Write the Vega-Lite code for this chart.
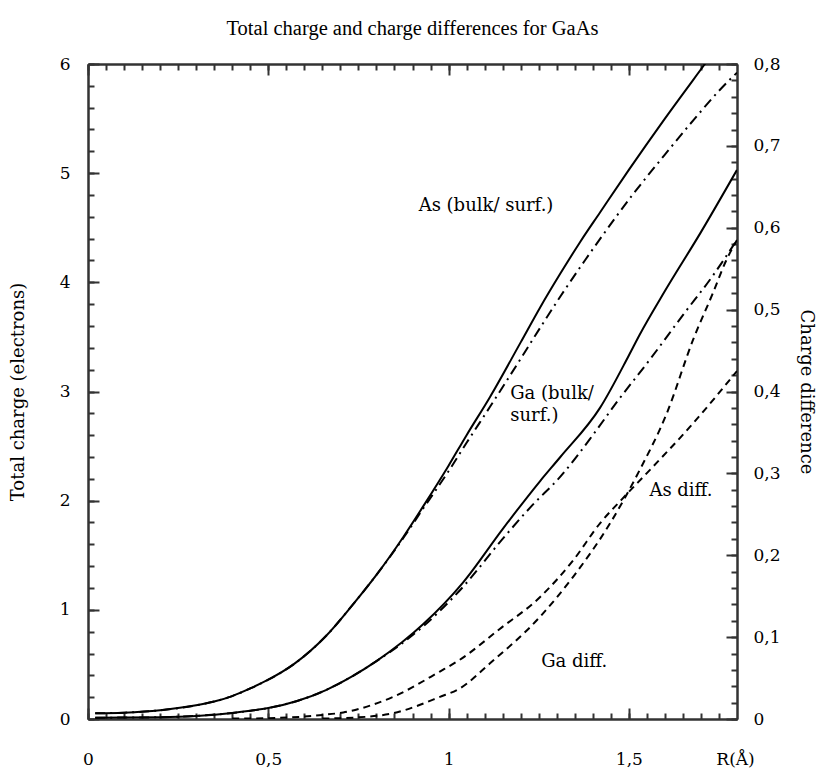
{
  "$schema": "https://vega.github.io/schema/vega-lite/v6.json",
  "width": 649,
  "height": 655,
  "autosize": {"type": "none"},
  "padding": {"left": 88, "top": 64, "right": 80, "bottom": 52},
  "background": "white",
  "title": {"text": "Total charge and charge differences for GaAs", "font": "Liberation Serif", "fontSize": 20.5, "fontWeight": "normal", "anchor": "middle", "offset": 16, "color": "#000"},
  "config": {
    "view": {"stroke": null},
    "axis": {"domainColor": "#333", "domainWidth": 2, "tickColor": "#333", "tickWidth": 2, "labelFont": "DejaVu Serif", "labelFontSize": 17, "labelColor": "#000", "titleFont": "DejaVu Serif", "titleFontSize": 18, "titleFontWeight": "normal", "titleColor": "#000", "grid": false, "labelFlush": false, "labelOverlap": false}
  },
  "datasets": {
    "q": [
      {"series": "As bulk", "R": 0.02, "Q": 0.052}, {"series": "As bulk", "R": 0.1, "Q": 0.058}, {"series": "As bulk", "R": 0.2, "Q": 0.08}, {"series": "As bulk", "R": 0.3, "Q": 0.125}, {"series": "As bulk", "R": 0.35, "Q": 0.16}, {"series": "As bulk", "R": 0.4, "Q": 0.21}, {"series": "As bulk", "R": 0.45, "Q": 0.28}, {"series": "As bulk", "R": 0.5, "Q": 0.36}, {"series": "As bulk", "R": 0.57, "Q": 0.5}, {"series": "As bulk", "R": 0.66, "Q": 0.76}, {"series": "As bulk", "R": 0.735, "Q": 1.05}, {"series": "As bulk", "R": 0.8, "Q": 1.32}, {"series": "As bulk", "R": 0.875, "Q": 1.67}, {"series": "As bulk", "R": 0.93, "Q": 1.95}, {"series": "As bulk", "R": 1.0, "Q": 2.32}, {"series": "As bulk", "R": 1.05, "Q": 2.6}, {"series": "As bulk", "R": 1.115, "Q": 2.95}, {"series": "As bulk", "R": 1.2, "Q": 3.45}, {"series": "As bulk", "R": 1.254, "Q": 3.77}, {"series": "As bulk", "R": 1.31, "Q": 4.08}, {"series": "As bulk", "R": 1.365, "Q": 4.37}, {"series": "As bulk", "R": 1.42, "Q": 4.64}, {"series": "As bulk", "R": 1.5, "Q": 5.03}, {"series": "As bulk", "R": 1.6, "Q": 5.5}, {"series": "As bulk", "R": 1.711, "Q": 6.0}, {"series": "As bulk", "R": 1.8, "Q": 6.4},
      {"series": "Ga bulk", "R": 0.02, "Q": 0.012}, {"series": "Ga bulk", "R": 0.1, "Q": 0.013}, {"series": "Ga bulk", "R": 0.2, "Q": 0.016}, {"series": "Ga bulk", "R": 0.3, "Q": 0.028}, {"series": "Ga bulk", "R": 0.4, "Q": 0.055}, {"series": "Ga bulk", "R": 0.45, "Q": 0.075}, {"series": "Ga bulk", "R": 0.5, "Q": 0.1}, {"series": "Ga bulk", "R": 0.58, "Q": 0.165}, {"series": "Ga bulk", "R": 0.66, "Q": 0.265}, {"series": "Ga bulk", "R": 0.73, "Q": 0.385}, {"series": "Ga bulk", "R": 0.8, "Q": 0.53}, {"series": "Ga bulk", "R": 0.87, "Q": 0.7}, {"series": "Ga bulk", "R": 0.93, "Q": 0.87}, {"series": "Ga bulk", "R": 1.04, "Q": 1.25}, {"series": "Ga bulk", "R": 1.15, "Q": 1.74}, {"series": "Ga bulk", "R": 1.254, "Q": 2.18}, {"series": "Ga bulk", "R": 1.31, "Q": 2.4}, {"series": "Ga bulk", "R": 1.42, "Q": 2.85}, {"series": "Ga bulk", "R": 1.5, "Q": 3.33}, {"series": "Ga bulk", "R": 1.53, "Q": 3.52}, {"series": "Ga bulk", "R": 1.6, "Q": 3.92}, {"series": "Ga bulk", "R": 1.7, "Q": 4.46}, {"series": "Ga bulk", "R": 1.8, "Q": 5.03}
    ],
    "qs": [
      {"series": "As surf", "R": 0.02, "Q": 0.052}, {"series": "As surf", "R": 0.1, "Q": 0.058}, {"series": "As surf", "R": 0.2, "Q": 0.08}, {"series": "As surf", "R": 0.3, "Q": 0.125}, {"series": "As surf", "R": 0.35, "Q": 0.16}, {"series": "As surf", "R": 0.4, "Q": 0.21}, {"series": "As surf", "R": 0.45, "Q": 0.28}, {"series": "As surf", "R": 0.5, "Q": 0.36}, {"series": "As surf", "R": 0.57, "Q": 0.5}, {"series": "As surf", "R": 0.66, "Q": 0.76}, {"series": "As surf", "R": 0.735, "Q": 1.05}, {"series": "As surf", "R": 0.8, "Q": 1.32}, {"series": "As surf", "R": 0.875, "Q": 1.66}, {"series": "As surf", "R": 0.93, "Q": 1.93}, {"series": "As surf", "R": 1.0, "Q": 2.27}, {"series": "As surf", "R": 1.05, "Q": 2.53}, {"series": "As surf", "R": 1.115, "Q": 2.86}, {"series": "As surf", "R": 1.2, "Q": 3.3}, {"series": "As surf", "R": 1.263, "Q": 3.63}, {"series": "As surf", "R": 1.31, "Q": 3.87}, {"series": "As surf", "R": 1.378, "Q": 4.2}, {"series": "As surf", "R": 1.41, "Q": 4.35}, {"series": "As surf", "R": 1.51, "Q": 4.8}, {"series": "As surf", "R": 1.6, "Q": 5.17}, {"series": "As surf", "R": 1.67, "Q": 5.45}, {"series": "As surf", "R": 1.775, "Q": 5.84}, {"series": "As surf", "R": 1.8, "Q": 5.92},
      {"series": "Ga surf", "R": 0.02, "Q": 0.012}, {"series": "Ga surf", "R": 0.1, "Q": 0.013}, {"series": "Ga surf", "R": 0.2, "Q": 0.016}, {"series": "Ga surf", "R": 0.3, "Q": 0.028}, {"series": "Ga surf", "R": 0.4, "Q": 0.055}, {"series": "Ga surf", "R": 0.45, "Q": 0.075}, {"series": "Ga surf", "R": 0.5, "Q": 0.1}, {"series": "Ga surf", "R": 0.58, "Q": 0.165}, {"series": "Ga surf", "R": 0.66, "Q": 0.265}, {"series": "Ga surf", "R": 0.73, "Q": 0.385}, {"series": "Ga surf", "R": 0.8, "Q": 0.53}, {"series": "Ga surf", "R": 0.87, "Q": 0.69}, {"series": "Ga surf", "R": 0.93, "Q": 0.85}, {"series": "Ga surf", "R": 1.04, "Q": 1.21}, {"series": "Ga surf", "R": 1.15, "Q": 1.65}, {"series": "Ga surf", "R": 1.23, "Q": 1.95}, {"series": "Ga surf", "R": 1.31, "Q": 2.22}, {"series": "Ga surf", "R": 1.4, "Q": 2.6}, {"series": "Ga surf", "R": 1.466, "Q": 2.9}, {"series": "Ga surf", "R": 1.56, "Q": 3.3}, {"series": "Ga surf", "R": 1.65, "Q": 3.7}, {"series": "Ga surf", "R": 1.735, "Q": 4.07}, {"series": "Ga surf", "R": 1.8, "Q": 4.39}
    ],
    "asdiff": [
      {"R": 0.4, "D": 0.0005}, {"R": 0.5, "D": 0.001}, {"R": 0.6, "D": 0.003}, {"R": 0.65, "D": 0.005}, {"R": 0.708, "D": 0.008}, {"R": 0.78, "D": 0.016}, {"R": 0.846, "D": 0.027}, {"R": 0.976, "D": 0.058}, {"R": 1.03, "D": 0.072}, {"R": 1.142, "D": 0.11}, {"R": 1.254, "D": 0.149}, {"R": 1.346, "D": 0.194}, {"R": 1.42, "D": 0.239}, {"R": 1.48, "D": 0.268}, {"R": 1.558, "D": 0.304}, {"R": 1.67, "D": 0.357}, {"R": 1.8, "D": 0.425}
    ],
    "gadiff": [
      {"R": 0.65, "D": 0.0005}, {"R": 0.75, "D": 0.002}, {"R": 0.846, "D": 0.007}, {"R": 0.976, "D": 0.027}, {"R": 1.03, "D": 0.037}, {"R": 1.115, "D": 0.068}, {"R": 1.254, "D": 0.125}, {"R": 1.346, "D": 0.174}, {"R": 1.448, "D": 0.239}, {"R": 1.53, "D": 0.304}, {"R": 1.605, "D": 0.373}, {"R": 1.678, "D": 0.463}, {"R": 1.733, "D": 0.52}, {"R": 1.77, "D": 0.56}, {"R": 1.8, "D": 0.585}
    ],
    "labels": [
      {"R": 0.917, "Q": 4.7, "text": "As (bulk/ surf.)"},
      {"R": 1.171, "Q": 2.98, "text": "Ga (bulk/"},
      {"R": 1.171, "Q": 2.78, "text": "surf.)"},
      {"R": 1.557, "Q": 2.09, "text": "As diff."},
      {"R": 1.257, "Q": 0.525, "text": "Ga diff."}
    ]
  },
  "resolve": {"scale": {"y": "independent"}, "axis": {"x": "independent", "y": "independent"}},
  "layer": [
    {
      "data": {"name": "q"},
      "mark": {"type": "line", "color": "#000", "strokeWidth": 2, "interpolate": "monotone", "clip": true},
      "encoding": {
        "detail": {"field": "series"},
        "x": {"field": "R", "type": "quantitative", "scale": {"domain": [0, 1.8], "nice": false, "zero": false},
          "axis": {"orient": "bottom", "values": [0,0.05,0.1,0.15,0.2,0.25,0.3,0.35,0.4,0.45,0.5,0.55,0.6,0.65,0.7,0.75,0.8,0.85,0.9,0.95,1,1.05,1.1,1.15,1.2,1.25,1.3,1.35,1.4,1.45,1.5,1.55,1.6,1.65,1.7,1.75], "labels": false, "tickSize": -6, "title": null}},
        "y": {"field": "Q", "type": "quantitative", "scale": {"domain": [0, 6], "nice": false, "zero": false},
          "axis": {"orient": "left", "values": [0,0.2,0.4,0.6,0.8,1,1.2,1.4,1.6,1.8,2,2.2,2.4,2.6,2.8,3,3.2,3.4,3.6,3.8,4,4.2,4.4,4.6,4.8,5,5.2,5.4,5.6,5.8,6], "labels": false, "tickSize": -6, "title": null}}
      }
    },
    {
      "data": {"name": "qs"},
      "mark": {"type": "line", "color": "#000", "strokeWidth": 2, "strokeDash": [10, 5, 2, 5], "interpolate": "monotone", "clip": true},
      "encoding": {
        "detail": {"field": "series"},
        "x": {"field": "R", "type": "quantitative", "scale": {"domain": [0, 1.8], "nice": false, "zero": false},
          "axis": {"orient": "bottom", "values": [0, 0.5, 1, 1.5], "format": "~g", "labelExpr": "replace(datum.label, '.', ',')", "tickSize": -11, "labelPadding": 43, "title": "R(Å)", "titleX": 647, "titleY": 40, "titleBaseline": "middle", "titleAlign": "center", "titleAnchor": null, "titleFont": "DejaVu Serif", "titleFontSize": 17}},
        "y": {"field": "Q", "type": "quantitative", "scale": {"domain": [0, 6], "nice": false, "zero": false},
          "axis": {"orient": "left", "values": [0, 1, 2, 3, 4, 5, 6], "format": "d", "tickSize": -11, "labelPadding": 29, "title": "Total charge (electrons)", "titleX": -70, "titleBaseline": "middle"}}
      }
    },
    {
      "data": {"name": "asdiff"},
      "mark": {"type": "line", "color": "#000", "strokeWidth": 2, "strokeDash": [7, 5], "interpolate": "monotone", "clip": true},
      "encoding": {
        "x": {"field": "R", "type": "quantitative", "scale": {"domain": [0, 1.8], "nice": false, "zero": false},
          "axis": {"orient": "top", "values": [0,0.05,0.1,0.15,0.2,0.25,0.3,0.35,0.4,0.45,0.5,0.55,0.6,0.65,0.7,0.75,0.8,0.85,0.9,0.95,1,1.05,1.1,1.15,1.2,1.25,1.3,1.35,1.4,1.45,1.5,1.55,1.6,1.65,1.7,1.75], "labels": false, "tickSize": -6, "title": null}},
        "y": {"field": "D", "type": "quantitative", "scale": {"domain": [0, 0.8], "nice": false, "zero": false},
          "axis": {"orient": "right", "values": [0,0.02,0.04,0.06,0.08,0.1,0.12,0.14,0.16,0.18,0.2,0.22,0.24,0.26,0.28,0.3,0.32,0.34,0.36,0.38,0.4,0.42,0.44,0.46,0.48,0.5,0.52,0.54,0.56,0.58,0.6,0.62,0.64,0.66,0.68,0.7,0.72,0.74,0.76,0.78,0.8], "labels": false, "tickSize": -6, "title": null}}
      }
    },
    {
      "data": {"name": "gadiff"},
      "mark": {"type": "line", "color": "#000", "strokeWidth": 2, "strokeDash": [7, 5], "interpolate": "monotone", "clip": true},
      "encoding": {
        "x": {"field": "R", "type": "quantitative", "scale": {"domain": [0, 1.8], "nice": false, "zero": false},
          "axis": {"orient": "top", "values": [0, 0.5, 1, 1.5], "labels": false, "tickSize": -11, "title": null}},
        "y": {"field": "D", "type": "quantitative", "scale": {"domain": [0, 0.8], "nice": false, "zero": false},
          "axis": {"orient": "right", "values": [0, 0.1, 0.2, 0.3, 0.4, 0.5, 0.6, 0.7, 0.8], "format": "~g", "labelExpr": "replace(datum.label, '.', ',')", "tickSize": -11, "labelPadding": 27, "title": "Charge difference", "titleX": 68, "titleAngle": 90, "titleBaseline": "middle"}}
      }
    },
    {
      "data": {"name": "labels"},
      "mark": {"type": "text", "align": "left", "baseline": "middle", "font": "DejaVu Serif", "fontSize": 18, "color": "#000"},
      "encoding": {
        "x": {"field": "R", "type": "quantitative", "scale": {"domain": [0, 1.8], "nice": false, "zero": false}, "axis": null},
        "y": {"field": "Q", "type": "quantitative", "scale": {"domain": [0, 6], "nice": false, "zero": false}, "axis": null},
        "text": {"field": "text"}
      }
    }
  ]
}
